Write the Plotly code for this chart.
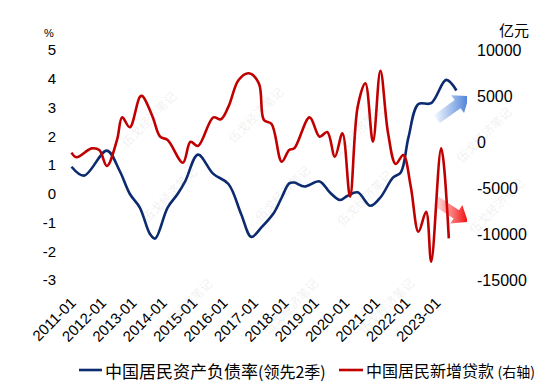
import plotly.graph_objects as go
import numpy as np
import datetime as dt

# ---------------- data ----------------
blue_dates = ["2011-01", "2011-06", "2012-03", "2012-08", "2012-12", "2013-04", "2013-08",
              "2013-10", "2014-03", "2014-07", "2014-10", "2015-03", "2015-09", "2016-03",
              "2016-08", "2016-12", "2017-04", "2017-09", "2017-12", "2018-03", "2018-05",
              "2018-09", "2019-03", "2019-07", "2019-11", "2020-02", "2020-06", "2020-11",
              "2021-03", "2021-08", "2021-11", "2022-02", "2022-06", "2022-11", "2023-05",
              "2023-09"]
blue_values = [0.94, 0.63, 1.50, 0.80, 0.00, -0.48, -1.40,
               -1.56, -0.48, 0.00, 0.45, 1.36, 0.69, 0.34,
               -0.71, -1.50, -1.17, -0.65, -0.13, 0.36, 0.39,
               0.25, 0.43, 0.05, -0.22, -0.07, 0.05, -0.42,
               -0.13, 0.57, 0.74, 1.96, 3.12, 3.15, 3.96,
               3.59]

red_dates = ["2011-01", "2011-03", "2011-09", "2011-12", "2012-03", "2012-07", "2012-09",
             "2012-12", "2013-04", "2013-05", "2013-09", "2013-12", "2014-03", "2014-09",
             "2014-12", "2015-03", "2015-09", "2015-12", "2016-03", "2016-07", "2016-11",
             "2017-03", "2017-05", "2017-08", "2017-12", "2018-03", "2018-05", "2018-11",
             "2019-03", "2019-06", "2019-09", "2019-12", "2020-03", "2020-06", "2020-09",
             "2020-12", "2021-03", "2021-06", "2021-09", "2021-12", "2022-03", "2022-06",
             "2022-09", "2022-11", "2023-03", "2023-06"]
red_values = [-1160, -1660, -690, -870, -2610, 220, 2680,
              1600, 4900, 5000, 2750, 580, 220, -2250,
              30, -430, 2680, 2470, 3840, 6740, 7470,
              6380, 2390, 1960, -2140, -870, -690, 2680,
              580, 1090, -1600, 950, -5940, 3840, 6380,
              30, 7750, 950, -2390, -1410, -4860, -9750,
              -7580, -13010, -690, -10470]

x_tick_vals = [f"{y}-01-01" for y in range(2011, 2024)]
x_tick_text = [f"{y}-01" for y in range(2011, 2024)]
left_ticks = [5, 4, 3, 2, 1, 0, -1, -2, -3]
left_tick_text = ["5", "4", "3", "2", "1", "0", "-1", "-2", "-3"]
right_ticks = [10000, 5000, 0, -5000, -10000, -15000]
right_tick_text = ["10000", "5000", "0", "-5000", "-10000", "-15000"]

blue_name = "中国居民资产负债率<span style='font-size:16px'>(领先2季)</span>"
red_name = "中国居民新增贷款 <span style='font-size:14px'>(右轴)</span>"
blue_color = "#0B2A6F"
red_color = "#C00000"

# ---------------- layout geometry ----------------
# All positions below are in page pixels of the 550x387 window; the browser's
# default 8px body margin offsets the figure, so the figure itself is 542x379.
OFF = 8
WIN_W, WIN_H = 550, 387
W, H = WIN_W - OFF, WIN_H - OFF
PL, PR, PT, PB = 57, 467, 50, 280  # plot area (page pixels)

FONT = "Liberation Sans, Arial, Noto Sans CJK SC, sans-serif"
CJK = "Noto Sans CJK SC, Liberation Sans, sans-serif"


def px(xp):
    return (xp - PL) / (PR - PL)


def py(yp):
    return (PB - yp) / (PB - PT)


fig = go.Figure()

fig.add_trace(go.Scatter(
    x=blue_dates, y=blue_values, name=blue_name, mode="lines",
    line=dict(color=blue_color, width=2.6, shape="spline", smoothing=1.0),
    xaxis="x", yaxis="y", showlegend=False))
fig.add_trace(go.Scatter(
    x=red_dates, y=red_values, name=red_name, mode="lines",
    line=dict(color=red_color, width=2.6, shape="spline", smoothing=1.0),
    xaxis="x", yaxis="y2", showlegend=False))


# ---------------- decorative gradient arrows (pixel space overlay) ----------------
def arrow_poly(tail, tip, w=5.0, hw=11.0, hl=14.0):
    t = np.array(tail, float)
    p = np.array(tip, float)
    u = (p - t) / np.linalg.norm(p - t)
    n = np.array([-u[1], u[0]])
    h = p - u * hl
    pts = [t + n * w, h + n * w, h + n * hw, p, h - n * hw, h - n * w, t - n * w, t + n * w]
    return [q[0] for q in pts], [q[1] for q in pts]


for tail, tip, col in [((437, 119), (469, 96), (70, 125, 215)),
                       ((436, 201), (468, 222), (245, 10, 10))]:
    xs, ys = arrow_poly(tail, tip)
    r, g, b = col
    fig.add_trace(go.Scatter(
        x=xs, y=ys, mode="lines", fill="toself", line=dict(width=0, color="rgba(0,0,0,0)"),
        fillgradient=dict(type="horizontal",
                          colorscale=[[0, f"rgba({r},{g},{b},0.05)"],
                                      [0.6, f"rgba({r},{g},{b},0.6)"],
                                      [1, f"rgba({r},{g},{b},1)"]]),
        xaxis="x3", yaxis="y3", showlegend=False, hoverinfo="skip"))

annotations = []
shapes = []

# ---------------- watermarks ----------------
wm_pos = [(114, 84), (255, 80), (390, 97), (517, 100), (135, 228), (282, 227),
          (398, 232), (530, 240), (150, 340), (290, 340), (420, 340)]
for (wx, wy) in wm_pos:
    annotations.append(dict(
        text="伍戈经济笔记", x=px(wx), y=py(wy), xref="paper", yref="paper",
        showarrow=False, textangle=-45,
        font=dict(family=CJK, size=12, color="rgba(120,120,120,0.12)")))

# ---------------- axis unit labels ----------------
annotations.append(dict(text="%", x=px(49), y=py(33), xref="paper", yref="paper",
                        xanchor="center", yanchor="middle", showarrow=False,
                        font=dict(family=FONT, size=11, color="#000")))
annotations.append(dict(text="亿元", x=px(514), y=py(29), xref="paper", yref="paper",
                        xanchor="center", yanchor="middle", showarrow=False,
                        font=dict(family=CJK, size=15, color="#000")))

# ---------------- legend (drawn manually to keep it on one line) ----------------
LEG_Y = 370
for (x_a, x_b, x_t, name, col, fs) in [(79, 102, 103, blue_name, blue_color, 17),
                                        (339, 363, 364, red_name, red_color, 16)]:
    shapes.append(dict(type="line", xref="paper", yref="paper",
                       x0=px(x_a), x1=px(x_b), y0=py(LEG_Y), y1=py(LEG_Y),
                       line=dict(color=col, width=2.6)))
    annotations.append(dict(text=name, x=px(x_t), y=py(LEG_Y), xref="paper", yref="paper",
                            xanchor="left", yanchor="middle", showarrow=False,
                            font=dict(family=CJK, size=fs, color="#000")))

# x range: 2011-01 sits at page pixel ~71.5, ~2.533 px per month
base = dt.datetime(2011, 1, 1)
px_per_day = 2.533 * 12 / 365.25
x0 = base + dt.timedelta(days=(PL - 71.5) / px_per_day)
x1 = base + dt.timedelta(days=(PR - 71.5) / px_per_day)

fig.update_layout(
    width=W, height=H,
    margin=dict(l=PL - OFF, r=WIN_W - PR, t=PT - OFF, b=WIN_H - PB, pad=0),
    paper_bgcolor="white", plot_bgcolor="white",
    font=dict(family=FONT, color="#000"),
    xaxis=dict(type="date", range=[x0, x1], tickvals=x_tick_vals, ticktext=x_tick_text,
               tickangle=-45, showgrid=False, zeroline=False, showline=False, ticks="",
               automargin=False, ticklabelstandoff=10,
               tickfont=dict(family=FONT, size=15, color="#000")),
    yaxis=dict(range=[-3, 5], tickvals=left_ticks, ticktext=left_tick_text,
               showgrid=False, zeroline=False, showline=False, ticks="", automargin=False,
               tickfont=dict(family=FONT, size=15, color="#000")),
    yaxis2=dict(range=[-15000, 10000], tickvals=right_ticks, ticktext=right_tick_text,
                overlaying="y", side="right", showgrid=False, zeroline=False,
                showline=False, ticks="", automargin=False, ticklabelstandoff=9,
                tickfont=dict(family=FONT, size=16, color="#000")),
    xaxis3=dict(range=[PL, PR], overlaying="x", visible=False, fixedrange=True),
    yaxis3=dict(range=[PB, PT], overlaying="y", visible=False, fixedrange=True),
    annotations=annotations,
    shapes=shapes,
    showlegend=False,
)

fig.write_html("out.html")
